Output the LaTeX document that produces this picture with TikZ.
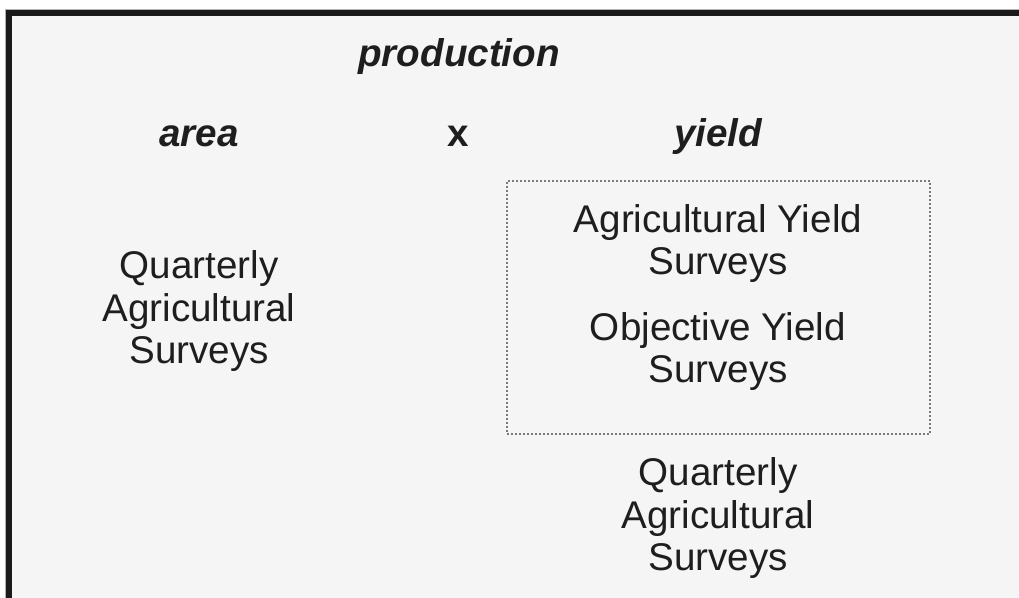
\documentclass[tikz,border=0pt]{standalone}
\usepackage{fontspec}
\setmainfont{Liberation Sans}
\usepackage{xcolor}
\usetikzlibrary{positioning}
\definecolor{paper}{HTML}{F5F5F5}
\definecolor{ink}{HTML}{1E1E1E}
\definecolor{frame}{HTML}{1A1A1A}
\definecolor{dots}{HTML}{7A7A7A}
\tikzset{%
  % text classes
  lbl/.style={text=ink, align=center, inner sep=0pt, anchor=base,
    font=\fontsize{19.3}{21.3}\selectfont},
  head/.style={lbl, font=\fontsize{19.3}{21.3}\selectfont\bfseries\itshape},
  op/.style={lbl, font=\fontsize{19.3}{21.3}\selectfont\bfseries},
  % dotted group
  group/.style={draw=dots, line width=0.8pt, dash pattern=on 1pt off 1pt,
    minimum width=211.5pt, minimum height=126.5pt, inner sep=0pt},
}
\begin{document}
\begin{tikzpicture}[x=0.5pt, y=-0.5pt]
  \useasboundingbox (0,0) rectangle (1019,598);
  % frame and paper
  \fill[white] (0,0) rectangle (1019,598);
  \fill[black!30] (5,9) rectangle (1019,598);
  \fill[frame] (6,10) rectangle (1019,598);
  \fill[paper] (12,16) rectangle (1019,598);

  \node[head] (production) at (459,67) {production};
  \node[head] (area) at (199,147) {area};
  \node[op] (times) at (458,147) {x};
  \node[head] (yield) at (718,147) {yield};

  % multi-line nodes sit on their last baseline
  \node[lbl] (qasleft) at (199,364) {Quarterly\\Agricultural\\Surveys};

  \node[group] (yieldbox) at (718.5,307.5) {};
  \node[lbl] (ays) at (718,275) {Agricultural Yield\\Surveys};
  \node[lbl] (oys) at (718,383) {Objective Yield\\Surveys};

  \node[lbl] (qasright) at (718,571) {Quarterly\\Agricultural\\Surveys};
\end{tikzpicture}
\end{document}
